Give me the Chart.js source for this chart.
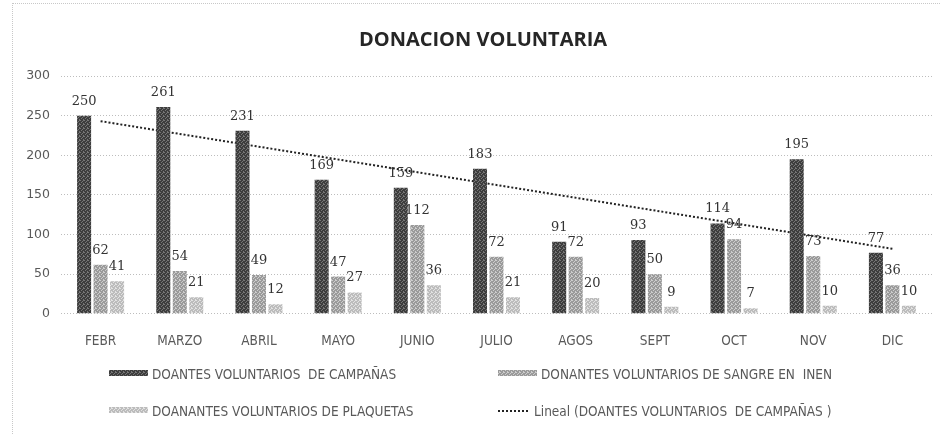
<!DOCTYPE html>
<html lang="es">
<head>
<meta charset="utf-8">
<title>Donación voluntaria</title>
<script src="https://cdn.jsdelivr.net/npm/chart.js@4.4.1/dist/chart.umd.min.js"></script>
<style>
    html, body { margin: 0; padding: 0; background: #fff; }
    #wrap { position: relative; width: 940px; height: 434px; }
    #marco {
        position: absolute; left: 12px; top: 3px; right: 0; bottom: 0;
        border-left: 1px dotted #c8c8c8; border-top: 1px dotted #c8c8c8;
        pointer-events: none;
    }
    canvas { position: absolute; left: 0; top: 0; }
</style>
</head>
<body>
<div id="wrap">
    <canvas id="chart-donacion" width="940" height="434"></canvas>
    <div id="marco"></div>
</div>
<script>
// ============================================
// DONACION VOLUNTARIA — datos del gráfico
// ============================================
const meses = ['FEBR', 'MARZO', 'ABRIL', 'MAYO', 'JUNIO', 'JULIO', 'AGOS', 'SEPT', 'OCT', 'NOV', 'DIC'];
const campanas  = [250, 261, 231, 169, 159, 183, 91, 93, 114, 195, 77];
const sangre    = [62, 54, 49, 47, 112, 72, 72, 50, 94, 73, 36];
const plaquetas = [41, 21, 12, 27, 36, 21, 20, 9, 7, 10, 10];
// línea de tendencia (solo extremos)
const tendencia = [243, null, null, null, null, null, null, null, null, null, 82];
const ejeY = [0, 50, 100, 150, 200, 250, 300];

const titulo = 'DONACION VOLUNTARIA';
const nombres = [
    'DOANTES VOLUNTARIOS  DE CAMPAÑAS',
    'DONANTES VOLUNTARIOS DE SANGRE EN  INEN',
    'DOANANTES VOLUNTARIOS DE PLAQUETAS',
    'Lineal (DOANTES VOLUNTARIOS  DE CAMPAÑAS )'
];

// ------------------------------------------
// Textura tipo trama para las barras
// ------------------------------------------
function trama(base, punto) {
    const c = document.createElement('canvas');
    c.width = 4; c.height = 4;
    const g = c.getContext('2d');
    g.fillStyle = base;
    g.fillRect(0, 0, 4, 4);
    g.fillStyle = punto;
    [[0, 0], [2, 1], [1, 2], [3, 3], [3, 0]].forEach(([x, y]) => g.fillRect(x, y, 1, 1));
    return g.createPattern(c, 'repeat');
}

const colCampanas  = trama('#3d3d3d', '#767676');
const colSangre    = trama('#9a9a9a', '#cdcdcd');
const colPlaquetas = trama('#bcbcbc', '#e2e2e2');

const fuenteEje = 'DejaVu Sans Condensed';

// ------------------------------------------
// Título (dibujado a mano para centrarlo como el original)
// ------------------------------------------
const encabezado = {
    id: 'encabezado',
    afterDraw(chart) {
        const ctx = chart.ctx;
        ctx.save();
        ctx.font = 'bold 20px "Open Sans"';
        ctx.fillStyle = '#262626';
        ctx.textAlign = 'center';
        ctx.textBaseline = 'middle';
        ctx.fillText(titulo, 483, 40);
        ctx.restore();
    }
};

// ------------------------------------------
// Etiquetas de valor sobre cada barra
// ------------------------------------------
const etiquetas = {
    id: 'etiquetas',
    afterDatasetsDraw(chart) {
        const ctx = chart.ctx;
        ctx.save();
        ctx.font = '13px "DejaVu Serif"';
        ctx.fillStyle = '#333';
        ctx.textAlign = 'center';
        ctx.textBaseline = 'alphabetic';
        chart.data.datasets.forEach((ds, i) => {
            if (ds.type === 'line') return;
            chart.getDatasetMeta(i).data.forEach((bar, j) => {
                ctx.fillText(String(ds.data[j]), bar.x, bar.y - 11);
            });
        });
        ctx.restore();
    }
};

// ------------------------------------------
// Leyenda en dos columnas bajo el gráfico
// ------------------------------------------
const leyenda = {
    id: 'leyenda',
    afterDraw(chart) {
        const ctx = chart.ctx;
        const cols = [109, 498];
        const filas = [374, 411];
        ctx.save();
        ctx.font = '13.5px "' + fuenteEje + '"';
        ctx.textBaseline = 'middle';
        chart.data.datasets.forEach((ds, i) => {
            const x = cols[i % 2];
            const y = filas[Math.floor(i / 2)];
            let texto = x + 43;
            if (ds.type === 'line') {
                ctx.strokeStyle = ds.borderColor;
                ctx.lineWidth = 2;
                ctx.setLineDash([2, 2]);
                ctx.beginPath();
                ctx.moveTo(x, y);
                ctx.lineTo(x + 32, y);
                ctx.stroke();
                ctx.setLineDash([]);
                texto = x + 36;
            } else {
                ctx.fillStyle = ds.backgroundColor;
                ctx.fillRect(x, y - 4, 39, 6);
            }
            ctx.fillStyle = '#595959';
            ctx.fillText(ds.label, texto, y + 1);
        });
        ctx.restore();
    }
};

const ctx = document.getElementById('chart-donacion').getContext('2d');

new Chart(ctx, {
    type: 'bar',
    data: {
        labels: meses,
        datasets: [
            { label: nombres[0], data: campanas,  backgroundColor: colCampanas },
            { label: nombres[1], data: sangre,    backgroundColor: colSangre },
            { label: nombres[2], data: plaquetas, backgroundColor: colPlaquetas },
            {
                type: 'line',
                label: nombres[3],
                data: tendencia,
                spanGaps: true,
                borderColor: '#222',
                borderWidth: 2,
                borderDash: [2, 2],
                pointRadius: 0,
                fill: false
            }
        ]
    },
    options: {
        responsive: false,
        animation: false,
        devicePixelRatio: 1,
        categoryPercentage: 0.625,
        barPercentage: 0.85,
        layout: { padding: { top: 76, left: 0, right: 8, bottom: 64 } },
        plugins: {
            legend: { display: false },
            tooltip: { enabled: false },
            title: { display: false }
        },
        scales: {
            y: {
                min: 0,
                max: 300,
                afterFit: s => { s.width = 61; },
                afterBuildTicks: s => { s.ticks = ejeY.map(v => ({ value: v })); },
                border: { display: false, dash: [1, 2] },
                grid: {
                    color: '#bdbdbd',
                    drawTicks: false
                },
                ticks: {
                    padding: 11,
                    color: '#595959',
                    font: { family: 'DejaVu Sans', size: 12.5 }
                }
            },
            x: {
                border: { display: false },
                grid: { display: false, drawTicks: false },
                ticks: {
                    padding: 20,
                    maxRotation: 0,
                    autoSkip: false,
                    color: '#595959',
                    font: { family: fuenteEje, size: 13.5 }
                }
            }
        }
    },
    plugins: [encabezado, etiquetas, leyenda]
});
</script>
</body>
</html>
